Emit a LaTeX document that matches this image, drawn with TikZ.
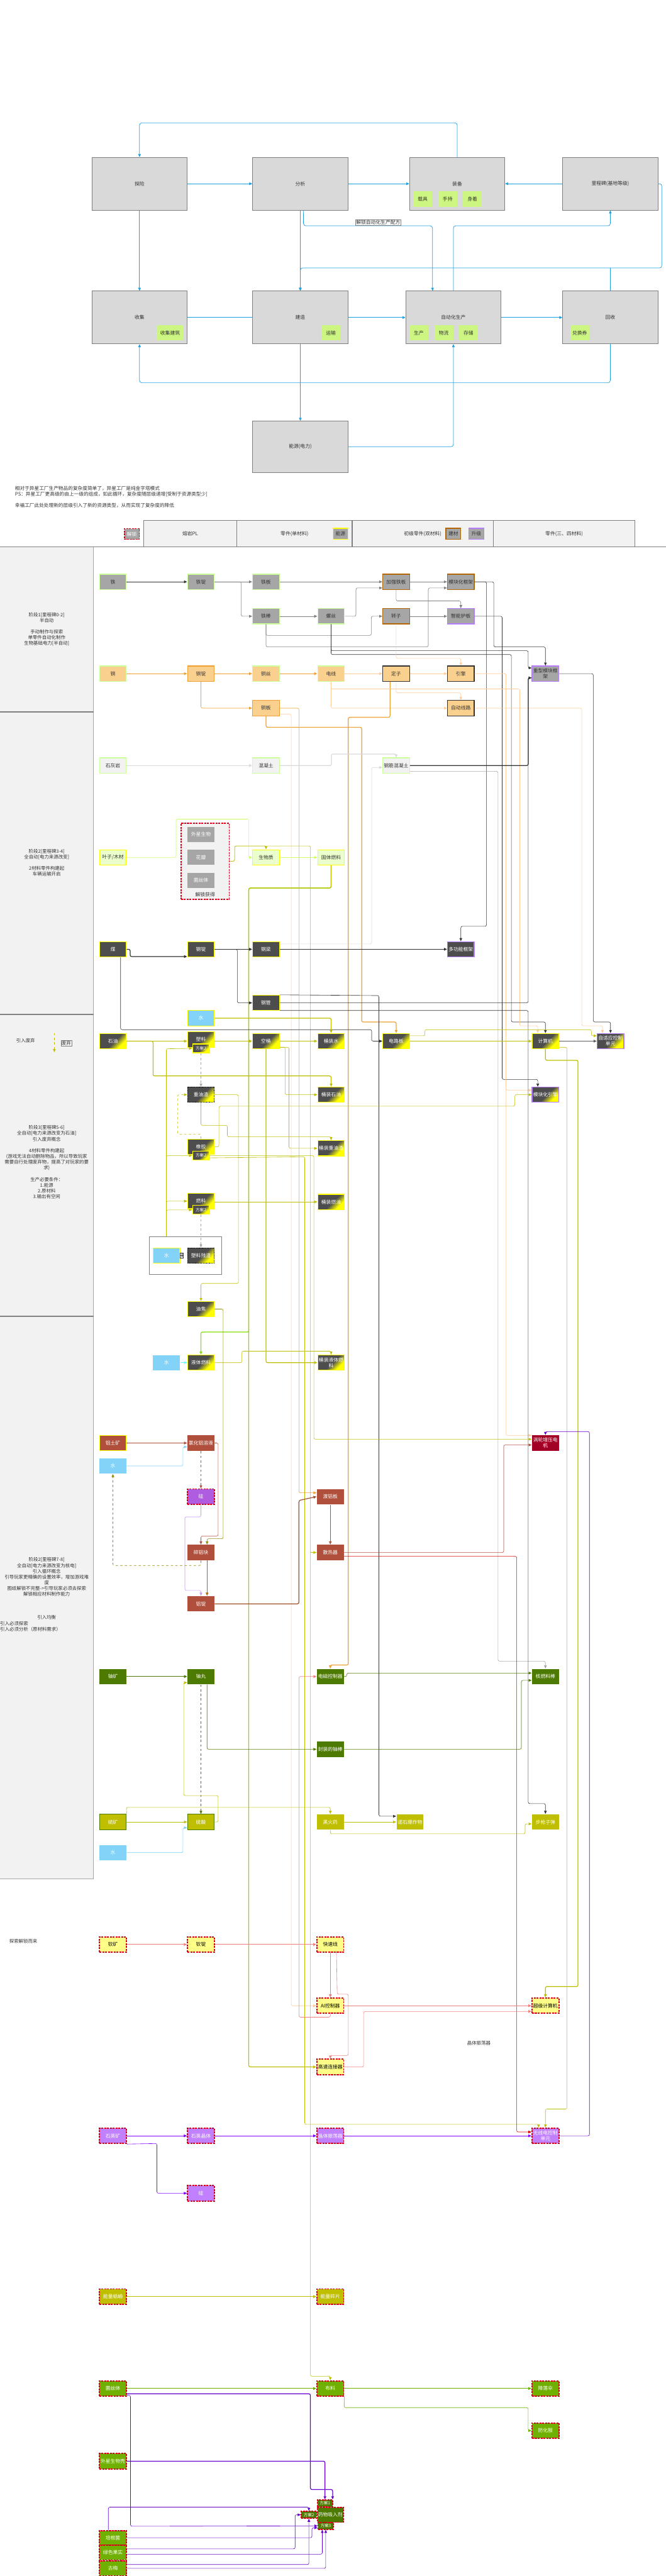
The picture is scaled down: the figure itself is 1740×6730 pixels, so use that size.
\documentclass[tikz,border=0pt]{standalone}
\usepackage{fontspec}
\setmainfont{Noto Sans CJK SC}
\usetikzlibrary{arrows.meta}
\definecolor{kblue}{HTML}{1BA1E2}
\definecolor{kbig}{HTML}{D9D9D9}
\definecolor{kbigd}{HTML}{7F7F7F}
\definecolor{ksub}{HTML}{CCF582}
\definecolor{kng}{HTML}{A6A6A6}
\definecolor{kbg}{HTML}{CCFF99}
\definecolor{kbb}{HTML}{B46504}
\definecolor{kbp}{HTML}{B77CFF}
\definecolor{kof}{HTML}{FAD08F}
\definecolor{kob}{HTML}{F0A030}
\definecolor{klg}{HTML}{F2F2F2}
\definecolor{kly}{HTML}{EBFFCC}
\definecolor{kdk}{HTML}{4D4D4D}
\definecolor{kyel}{HTML}{FFFF00}
\definecolor{kwat}{HTML}{83D3F8}
\definecolor{kbr}{HTML}{B0503C}
\definecolor{kdr}{HTML}{A20025}
\definecolor{kgui}{HTML}{B05CE0}
\definecolor{kug}{HTML}{4D7A00}
\definecolor{ksul}{HTML}{BFBF00}
\definecolor{kcat}{HTML}{FFFF88}
\definecolor{kqz}{HTML}{C080FF}
\definecolor{kmyc}{HTML}{6FB000}
\definecolor{kred}{HTML}{D9001B}
\definecolor{ktxt}{HTML}{333333}
\definecolor{ck}{HTML}{333333}
\definecolor{cgr}{HTML}{808080}
\definecolor{cor}{HTML}{F0A030}
\definecolor{clo}{HTML}{FFCC99}
\definecolor{clg}{HTML}{DADADA}
\definecolor{cgy}{HTML}{A6A6A6}
\definecolor{col}{HTML}{BFBF00}
\definecolor{cdol}{HTML}{8C8C00}
\definecolor{clgr}{HTML}{CCFF66}
\definecolor{cbgr}{HTML}{80E000}
\definecolor{cbr}{HTML}{B0503C}
\definecolor{cbr2}{HTML}{A0522D}
\definecolor{cwat}{HTML}{7FD3F8}
\definecolor{cpu}{HTML}{7F00FF}
\definecolor{cpu2}{HTML}{6600CC}
\definecolor{cpk}{HTML}{F08080}
\definecolor{cred}{HTML}{D80000}
\definecolor{clav}{HTML}{C39BF0}
\definecolor{ccy}{HTML}{66FFFF}
\pgfdeclareverticalshading{dgsh}{100bp}{color(0bp)=(kyel); color(30bp)=(kyel); color(47bp)=(kdk); color(100bp)=(kdk)}
\newcommand{\nfont}{\fontsize{6.4pt}{7.4pt}\selectfont}
\newcommand{\sfontx}{\fontsize{5.4pt}{6.2pt}\selectfont}
\newcommand{\lfont}{\fontsize{6.1pt}{7.5pt}\selectfont}
\newcommand{\tfont}{\fontsize{6.3pt}{7.5pt}\selectfont}
\tikzset{
 nb/.style={rectangle, minimum width=35pt, minimum height=20pt, inner sep=0pt, font=\nfont, align=center, line width=1pt, text=ktxt},
 rdash/.style={draw=kred, line width=1.5pt, dash pattern=on 2.5pt off 1.2pt},
 gn/.style={nb, fill=kng, draw=kbg},
 gbr/.style={nb, fill=kng, draw=kbb},
 gpu/.style={nb, fill=kng, draw=kbp},
 ogn/.style={nb, fill=kof, draw=kbg},
 oor/.style={nb, fill=kof, draw=kob},
 odk/.style={nb, fill=kof, draw=ck},
 lgn/.style={nb, fill=klg, draw=kbg},
 lye/.style={nb, fill=kly, draw=kyel},
 dky/.style={nb, fill=kdk, draw=kyel, text=white},
 dkp/.style={nb, fill=kdk, draw=kbp, text=white},
 dg/.style={nb, draw=kyel, shade, shading=dgsh, shading angle=45, text=white},
 dgp/.style={dg, draw=kbp},
 dgd/.style={nb, draw=black, dash pattern=on 1pt off 1pt, shade, shading=dgsh, shading angle=45, text=white},
 sub2/.style={dg, minimum width=22pt, minimum height=11.5pt, font=\sfontx},
 wat/.style={nb, fill=kwat, draw=kyel, text=white},
 watn/.style={nb, fill=kwat, draw=none, text=white},
 brn/.style={nb, fill=kbr, draw=none, text=white},
 drd/.style={nb, fill=kdr, draw=none, text=white},
 guis/.style={nb, fill=kgui, rdash, text=white},
 ugs/.style={nb, fill=kug, draw=none, text=white},
 suls/.style={nb, fill=ksul, draw=none, text=white},
 cats/.style={nb, fill=kcat, rdash, text=black},
 qzs/.style={nb, fill=kqz, rdash, text=white},
 egs/.style={nb, fill=ksul, rdash, text=white},
 mycs/.style={nb, fill=kmyc, rdash, text=white},
 fas/.style={nb, fill=kug, rdash, text=white, minimum width=20pt, minimum height=9pt, font=\sfontx, line width=1.2pt},
 big/.style={rectangle, fill=kbig, draw=kbigd, line width=0.6pt, minimum width=124.5pt, minimum height=69pt, font=\nfont, text=ktxt, inner sep=0pt},
 subb/.style={rectangle, fill=ksub, minimum width=24.5pt, minimum height=20pt, font=\nfont, text=ktxt, inner sep=0pt},
 hdr/.style={rectangle, fill=klg, draw=cgr, line width=1pt, minimum height=34.5pt, font=\nfont, text=ktxt, inner sep=0pt},
 tb/.style={draw=kblue, line width=0.6pt, rounded corners=3pt},
 ln/.style={line width=0.5pt, rounded corners=2pt},
 lt/.style={line width=1pt, rounded corners=2pt},
 lbl/.style={font=\lfont, text=ktxt, align=center, inner sep=0pt},
}
\begin{document}
\begin{tikzpicture}[x=0.5pt,y=-0.5pt,>={Triangle[length=4pt,width=3.4pt]}]
\useasboundingbox (0,0) rectangle (1740,6730);
\fill[white] (0,0) rectangle (1740,6730);

% ================= TOP OVERVIEW =================
\node[big] (tanxian) at (364.5,480) {探险};
\node[big] (fenxi) at (784.5,480) {分析};
\node[big] (zhuangbei) at (1194.5,480) {装备};
\node[big] (lichengbei) at (1594.5,480) {里程碑(基地等级)};
\node[big] (shouji) at (364.5,829.5) {收集};
\node[big] (jianzao) at (784.5,829.5) {建造};
\node[big] (zdh) at (1184.5,829.5) {自动化生产};
\node[big] (huishou) at (1594.5,829.5) {回收};
\node[big, minimum height=67pt] (nengyuan) at (784.5,1167) {能源(电力)};
\node[subb] (s1) at (1104.5,520) {载具};
\node[subb] (s2) at (1169.5,520) {手持};
\node[subb] (s3) at (1234,520) {身着};
\node[subb, minimum width=35.5pt] (s4) at (444.5,869.5) {收集建筑};
\node[subb] (s5) at (864.5,869.5) {运输};
\node[subb] (s6) at (1094,869.5) {生产};
\node[subb] (s7) at (1159.5,869.5) {物流};
\node[subb] (s8) at (1224,869.5) {存储};
\node[subb] (s9) at (1514.5,869.5) {兑换券};

\draw[tb,->] (zhuangbei.north) -- (1194.5,321) -- (364.5,321) -- (tanxian.north);
\draw[tb,->] (tanxian) -- (fenxi);
\draw[tb,->] (fenxi) -- (zhuangbei);
\draw[tb,->] (lichengbei) -- (zhuangbei);
\draw[tb,->] (tanxian) -- (shouji);
\draw[tb,->] (fenxi) -- (jianzao);
\draw[tb,->] ([xshift=4pt]fenxi.south) -- (793,590) -- (1130,590) -- ([xshift=-27.25pt]zdh.north);
\draw[tb,->] (zdh.north) -- (1184.5,590) -- (1594.5,590) -- (lichengbei.south);
\draw[tb,->] (lichengbei.east) -- (1729,480) -- (1729,700) -- (784.5,700) -- (jianzao.north);
\draw[tb] (huishou.north) -- (1594.5,700);
\draw[tb, line width=1pt] (shouji) -- (jianzao);
\draw[tb,->] (jianzao) -- (zdh);
\draw[tb,->] (zdh) -- (huishou);
\draw[tb,->] (jianzao) -- (nengyuan);
\draw[tb,->] (huishou.south) -- (1594.5,1000) -- (364.5,1000) -- (shouji.south);
\draw[tb,->] (nengyuan.east) -- (1184.5,1167) -- (zdh.south);
\node[draw=gray, fill=white, line width=0.3pt, inner sep=0.8pt, font=\nfont, text=ktxt] (unlock) at (988,581) {解锁自动化生产配方};

% ================= TEXT =================
\node[anchor=west, font=\tfont, text=ktxt, inner sep=0pt] (t1) at (39,1276) {相对于异星工厂生产物品的复杂度简单了，异星工厂是纯金字塔模式};
\node[anchor=west, font=\tfont, text=ktxt, inner sep=0pt] (t2) at (39,1292) {PS：异星工厂更高级的由上一级的组成，如此循环，复杂度随层级递增[受制于资源类型少]};
\node[anchor=west, font=\tfont, text=ktxt, inner sep=0pt] (t3) at (39,1320) {幸福工厂此处处理新的层级引入了新的资源类型，从而实现了复杂度的降低};

% ================= HEADER =================
\node[hdr, minimum width=122pt] (h1) at (497,1394.5) {熔岩PL};
\node[hdr, minimum width=150.5pt] (h2) at (769.5,1394.5) {零件(单材料)};
\node[hdr, minimum width=184.5pt] (h3) at (1104.5,1394.5) {初级零件(双材料)};
\node[hdr, minimum width=185pt] (h4) at (1474,1394.5) {零件(三、四材料)};
\node[nb, fill=kng, rdash, minimum width=19.5pt, minimum height=14pt, text=white] (lgunlock) at (344.5,1395) {解锁};
\node[nb, fill=kng, draw=kyel, minimum width=19.5pt, minimum height=14.5pt] (lgen) at (889.5,1394.5) {能源};
\node[nb, fill=kng, draw=kbb, minimum width=19.5pt, minimum height=14.5pt] (lgjc) at (1184.5,1394.5) {建材};
\node[nb, fill=kng, draw=kbp, minimum width=19.5pt, minimum height=14.5pt] (lgsj) at (1244.5,1394.5) {升级};

% ================= POOL =================
\fill[klg] (0,1429) rectangle (244,4909);
\draw[cgr!70, line width=0.5pt] (244,1429) -- (244,4909) -- (0,4909);
\draw[cgr, line width=1pt] (0,1429) -- (1740,1429);
\draw[cgr, line width=1.4pt] (0,1860) -- (244,1860);
\draw[cgr, line width=1.4pt] (0,2650) -- (244,2650);
\draw[cgr, line width=1.4pt] (0,3439) -- (244,3439);
\node[lbl] (lane1) at (122,1644) {阶段1[里程碑0-2]\\半自动\\[7.5pt]手动制作与探索\\单零件自动化制作\\生物基础电力[半自动]};
\node[lbl] (lane2) at (122,2254) {阶段2[里程碑3-4]\\全自动[电力来源改变]\\[7.5pt]2材料零件构建起\\车辆运输开启};
\node[lbl] (lane3) at (122,3036) {阶段3[里程碑5-6]\\全自动[电力来源改变为石油]\\引入废弃概念\\[7.5pt]4材料零件构建起\\(游戏无法自动删除物品，所以导致玩家\\需要自行处理废弃物，提高了对玩家的要\\求)\\[7.5pt]生产必要条件：\\1.能源\\2.原材料\\3.输出有空闲};
\node[lbl] (lane4) at (122,4120) {阶段2[里程碑7-8]\\全自动[电力来源改变为核电]\\引入循环概念\\引导玩家更精确的设置效率，增加游戏难\\度\\图纸解锁不完整->引导玩家必须去探索\\解锁相应材料制作能力};
\node[lbl] (l4a) at (122,4225) {引入均衡};
\node[lbl, anchor=west] (l4b) at (0,4241) {引入必须探索};
\node[lbl, anchor=west] (l4c) at (0,4256) {引入必须分析（原材料需求）};
\node[lbl] (waste1) at (67,2718) {引入废弃};
\coordinate (wa) at (142,2699);
\coordinate (wb) at (142,2749);
\draw[col, line width=0.5pt, dashed, ->] (wa) -- (wb);
\node[lbl, draw=cgr, line width=0.3pt, inner sep=0.8pt] (waste2) at (173,2726) {废弃};

% ================= LANE 1 NODES =================
\node[gn] (tie) at (295,1520) {铁};
\node[gn] (tieding) at (525,1520) {铁锭};
\node[gn] (tieban) at (695,1520) {铁板};
\node[gbr] (jqtb) at (1035,1520) {加强铁板};
\node[gbr] (mkkj) at (1204,1520) {模块化框架};
\node[gn] (tiebang) at (695,1610) {铁棒};
\node[gn] (luosi) at (865,1610) {螺丝};
\node[gbr] (zhuanzi) at (1035,1610) {转子};
\node[gpu] (znhb) at (1204,1610) {智能护板};
\node[ogn] (tong) at (295,1760) {铜};
\node[oor] (tongding) at (525,1760) {铜锭};
\node[ogn] (tongsi) at (695,1760) {铜丝};
\node[ogn] (dianxian) at (865,1760) {电线};
\node[odk] (dingzi) at (1035,1760) {定子};
\node[odk] (yinqing) at (1204,1760) {引擎};
\node[gpu] (zxmk) at (1425,1760) {重型模块框\\架};
\node[oor] (tongban) at (695,1850) {铜板};
\node[odk] (zdxl) at (1204,1850) {自动线路};

% ================= LANE 2 NODES =================
\node[lgn] (shihuiyan) at (295,2000) {石灰岩};
\node[lgn] (hunningtu) at (695,2000) {混凝土};
\node[lgn] (gjhnt) at (1035,2000) {钢筋混凝土};
\node[lye] (yezi) at (295,2240) {叶子/木材};
\node[lye] (swz) at (695,2240) {生物质};
\node[lye] (gtrl) at (865,2240) {固体燃料};
\node[rectangle, fill=klg, rdash, minimum width=63pt, minimum height=99pt, inner sep=0pt] (group) at (536,2250) {};
\node[nb, fill=kng, draw=none, text=white] (wxsw) at (525,2180) {外星生物};
\node[nb, fill=kng, draw=none, text=white] (huaban) at (525,2240) {花瓣};
\node[nb, fill=kng, draw=none, text=white] (jsti) at (525,2300) {菌丝体};
\node[font=\nfont, text=ktxt, inner sep=0pt] (jshd) at (536,2338) {解锁获得};
\node[dky] (mei) at (295,2480) {煤};
\node[dky] (gangding) at (525,2480) {钢锭};
\node[dky] (gangliang) at (695,2480) {钢梁};
\node[dkp] (dgnkj) at (1204,2480) {多功能框架};
\node[dky] (gangguan) at (695,2620) {钢管};
\node[wat] (shui1) at (525,2660) {水};

% ================= LANE 3 NODES =================
\node[dg] (shiyou) at (295,2720) {石油};
\node[dg] (suliao) at (525,2716) {塑料};
\node[sub2] (fasl) at (525,2739) {方案2};
\node[dg] (kongtong) at (695,2720) {空桶};
\node[dg] (tzs) at (865,2720) {桶装水};
\node[dg] (dlb) at (1035,2720) {电路板};
\node[dg] (jsj) at (1425,2720) {计算机};
\node[dgp] (zsy) at (1595,2720) {自适应控制\\单元};
\node[dgd] (zyz) at (525,2860) {重油渣};
\node[dg] (tzsy) at (865,2860) {桶装石油};
\node[dgp] (mkhyq) at (1425,2860) {模块化引擎};
\node[dg] (xiangjiao) at (525,2996) {橡胶};
\node[sub2] (faxj) at (525,3019) {方案2};
\node[dg] (tzzyz) at (865,3000) {桶装重油渣};
\node[dg] (ranliao) at (525,3138) {燃料};
\node[sub2] (farl) at (525,3161) {方案2};
\node[dg] (tzry) at (865,3140) {桶装燃油};
\node[rectangle, draw=cgr, fill=white, line width=0.5pt, minimum width=94.5pt, minimum height=50pt, inner sep=0pt] (grp2) at (484.5,3280) {};
\node[wat] (shui2) at (435,3280) {水};
\node[dgd] (slcz) at (525,3280) {塑料残渣};
\draw[ck, line width=0.4pt] (471,3273) rectangle (479,3287) (475,3275) -- (475,3285) (472,3280) -- (478,3280);
\node[dg] (youjiao) at (525,3420) {油焦};
\node[watn] (shui3) at (435,3560) {水};
\node[dg] (ytrl) at (525,3560) {液体燃料};
\node[dg] (tzytrl) at (865,3560) {桶装液体燃\\料};

% ================= LANE 4 NODES =================
\node[brn, draw=kyel] (lvtk) at (295,3770) {铝土矿};
\node[brn] (lhlry) at (525,3770) {氯化铝溶液};
\node[watn] (shui4) at (295,3830) {水};
\node[guis] (gui) at (525,3910) {硅};
\node[drd] (wlzy) at (1425,3770) {涡轮增压电\\机};
\node[brn] (dlb2) at (863,3910) {渡铝板};
\node[brn] (sulk) at (525,4056) {碎铝块};
\node[brn] (srq) at (863,4056) {散热器};
\node[brn] (lvding) at (525,4190) {铝锭};
\node[ugs] (youkuang) at (295,4380) {铀矿};
\node[ugs] (youwan) at (525,4380) {铀丸};
\node[ugs] (dckz) at (863,4380) {电磁控制器};
\node[ugs] (hrlb) at (1425,4380) {核燃料棒};
\node[ugs] (fzyb) at (863,4570) {封装的铀棒};
\node[suls, draw=kug] (liukuang) at (295,4760) {硫矿};
\node[suls, draw=kug] (liusuan) at (525,4760) {硫酸};
\node[suls] (hhy) at (863,4760) {黑火药};
\node[suls] (nbe) at (1071,4760) {诺石爆炸物};
\node[suls] (bqzd) at (1425,4760) {步枪子弹};
\node[watn] (shui5) at (295,4840) {水};

% ================= BELOW POOL =================
\node[lbl] (tsjs) at (61,5071) {探索解锁而来};
\node[lbl] (jtzd) at (1251,5337) {晶体振荡器};
\node[cats] (qinkuang) at (295,5080) {钦矿};
\node[cats] (qinding) at (525,5080) {钦锭};
\node[cats] (ksx) at (863,5080) {快速线};
\node[cats] (aikzq) at (863,5240) {AI控制器};
\node[cats] (cjjsj) at (1425,5240) {超级计算机};
\node[cats] (gslj) at (863,5400) {高速连接器};
\node[qzs] (syk) at (295,5580) {石英矿};
\node[qzs] (syjt) at (525,5580) {石英晶体};
\node[qzs] (jtzdq) at (863,5580) {晶体振荡器};
\node[qzs] (wxd) at (1425,5580) {无线电控制\\单元};
\node[qzs] (gui2) at (525,5730) {硅};
\node[egs] (nlky) at (295,6000) {能量蛞蝓};
\node[egs] (nlsp) at (863,6000) {能量碎片};
\node[mycs] (jst2) at (295,6240) {菌丝体};
\node[mycs] (buliao) at (863,6240) {布料};
\node[mycs] (jlz) at (1425,6240) {降落伞};
\node[mycs] (fhf) at (1425,6350) {防化服};
\node[mycs] (wxswk) at (295,6430) {外星生物壳};
\node[mycs, fill=kug, minimum width=34pt, minimum height=19.5pt] (ywxrj) at (863,6570) {药物吸入剂};
\node[fas] (fa1) at (849,6540) {方案1};
\node[fas] (fa2) at (807,6570) {方案2};
\node[fas] (fa3) at (851,6599) {方案3};
\node[mycs, minimum height=19pt] (pgj) at (295,6630) {培根菌};
\node[mycs, minimum height=19pt] (lsgs) at (295,6669) {绿色果实};
\node[mycs, minimum height=19pt] (gm) at (295,6710) {古梅};

% ================= LANE 1 CONNECTORS =================
\draw[lt, ck, ->] (tie) -- (tieding);
\draw[ln, cgr, ->] (tieding) -- (tieban);
\draw[ln, cgr, ->] (tieding.east) -- (630,1520) -- (630,1610) -- (tiebang.west);
\draw[ln, cgr, ->] (tieban) -- (jqtb);
\draw[ln, cgr, ->] (luosi.east) -- (930,1610) -- (930,1536) -- ([yshift=-8pt]jqtb.west);
\draw[ln, cgr, ->] (jqtb) -- (mkkj);
\draw[ln, cgr, ->] (tiebang) -- (luosi);
\draw[ln, cgr, ->] (tiebang.south) -- (695,1660) -- (970,1660) -- (970,1610) -- (zhuanzi.west);
\draw[ln, cgr, ->] (tiebang.south) -- (695,1690) -- (1119,1690) -- (1119,1536) -- ([yshift=-8pt]mkkj.west);
\draw[ln, cgr, ->] (jqtb.south) -- (1035,1570) -- (1204,1570) -- (znhb.north);
\draw[ln, cgr, ->] (zhuanzi) -- (znhb);
\draw[ln, ck, ->] (mkkj.east) -- (1290,1520) -- (1290,1690) -- (1425,1690) -- (zxmk.north);
\draw[ln, ck, ->] (mkkj.east) -- (1271,1520) -- (1271,2420) -- (1204,2420) -- (dgnkj.north);
\draw[ln, ck, ->] (luosi.south) -- (865,1710) -- (1336,1710) -- (1336,2670) -- (1425,2670) -- (jsj.north);
\draw[ln, ck, ->] (luosi.south) -- (865,1700) -- (1380,1700) -- (1380,1745) -- ([yshift=7.5pt]zxmk.west);
\draw[ln, ck, ->] (znhb.east) -- (1312,1610) -- (1312,2820) -- (1405,2820) -- ([xshift=-10pt]mkhyq.north);
\draw[lt, cor, ->] (tong) -- (tongding);
\draw[lt, cor, ->] (tongding) -- (tongsi);
\draw[lt, cor, ->] (tongsi) -- (dianxian);
\draw[ln, clo, ->] (dianxian) -- (dingzi);
\draw[ln, clo, ->] (dingzi) -- (yinqing);
\draw[ln, clo, ->] (zhuanzi.south) -- (1035,1720) -- (1204,1720) -- (yinqing.north);
\draw[ln, cor, ->] (tongding.south) -- (525,1850) -- (tongban.west);
\draw[ln, clo, ->] (dianxian.south) -- (865,1850) -- (zdxl.west);
\draw[ln, clo, ->] (dingzi.south) -- (1035,1810) -- (1204,1810) -- (zdxl.north);
\draw[ln, clo, ->] (zdxl.east) -- (1520,1850) -- (1520,2680) -- (1574,2680) -- ([xshift=-10.5pt]zsy.north);
\draw[ln, ck, ->] (zxmk.east) -- (1550,1760) -- (1550,2670) -- (1595,2670) -- (zsy.north);
\draw[lt, cor, ->] (tongban.south) -- (695,1900) -- (945,1900) -- (945,2670) -- (1035,2670) -- (dlb.north);
\draw[lt, cor, ->] ([xshift=-8pt]dingzi.south) -- (1019,1874) -- (910,1874) -- (910,4350) -- (863,4350) -- (dckz.north);
\draw[ln, clo, ->] (dianxian.south) -- (865,1800) -- (1358,1800) -- (1358,2680) -- (1405,2680) -- ([xshift=-10pt]jsj.north);
\draw[ln, clo, ->] (yinqing.east) -- (1322,1760) -- (1322,3750) -- ([yshift=10pt]wlzy.west);
\draw[ln, clo, ->] (yinqing.east) -- (1322,1760) -- (1322,2848) -- ([yshift=6pt]mkhyq.west);
\draw[ln, cor, ->] (tongban.east) -- (781,1850) -- (781,3900) -- ([yshift=5pt]dlb2.west);
\draw[ln, clo, ->] ([yshift=-8pt]tongban.east) -- (761,1866) -- (761,5240) -- (aikzq.west);

% ================= LANE 2 CONNECTORS =================
\draw[lt, clg, ->] (shihuiyan) -- (hunningtu);
\draw[lt, clg, ->] (hunningtu.east) -- (866,2000) -- (866,1970) -- (1035,1970) -- (gjhnt.north);
\draw[ln, clg, ->] ([yshift=7pt]gangliang.east) -- (971,2466) -- (971,2005) -- ([yshift=-2.5pt]gjhnt.west);
\draw[lt, ck, ->] (gjhnt.east) -- (1380,2000) -- (1380,1771) -- ([yshift=-5.5pt]zxmk.west);
\draw[ln, cgy, ->] ([yshift=-7.5pt]gjhnt.east) -- (1301,2015) -- (1301,4340) -- (1425,4340) -- (hrlb.north);
\draw[ln, clgr, ->] (yezi.east) -- (460,2240) -- (460,2140) -- (650,2140) -- (650,2240) -- (swz.west);
\draw[ln, col, ->] (group.east) -- (613,2250) -- (613,2210) -- (695,2210) -- (swz.north);
\draw[ln, col, ->] (group.east) -- (613,2250) -- (613,2210) -- (811,2210) -- (811,6208) -- (863,6208) -- (buliao.north);
\draw[ln, col, ->] (811,4056) -- (srq.west);
\draw[ln, clgr, ->] (swz) -- (gtrl);
\draw[lt, cbgr, ->] (gtrl.south) -- (865,2320) -- (650,2320) -- (650,3480) -- (525,3480) -- (ytrl.north);
\draw[lt, col, ->] (gtrl.south) -- (865,2320) -- (650,2320) -- (650,5400) -- (gslj.west);
\draw[lt, ck, ->] (mei.east) -- (340,2480) -- (340,2499) -- ([yshift=-9.5pt]gangding.west);
\draw[lt, ck, ->] (gangding) -- (gangliang);
\draw[ln, ck, ->] (gangding.east) -- (620,2480) -- (620,2620) -- (gangguan.west);
\draw[lt, ck, ->] (gangliang) -- (dgnkj);
\draw[ln, ck, ->] ([xshift=10pt]mei.south) -- (315,2690) -- (971,2690) -- (971,2720) -- (dlb.west);
\draw[ln, ck, ->] (gangguan.north east) -- (990,2601) -- (990,4745) -- ([yshift=7.5pt]nbe.west);
\draw[ln, ck, ->] (gangguan.east) -- (1380,2620) -- (1380,1771) -- ([yshift=-5.5pt]zxmk.west);
\draw[ln, ck, ->] ([yshift=-10pt]gangguan.east) -- (1380,2640) -- (1380,4712) -- (1425,4712) -- (bqzd.north);
\draw[lt, col, ->] (shui1.east) -- (865,2660) -- (tzs.north);

% ================= LANE 3 CONNECTORS =================
\draw[lt, col, ->] (shiyou) -- (suliao.west |- shiyou);
\draw[lt, col, ->] (shiyou.east) -- (400,2720) -- (400,2811) -- (865,2811) -- (tzsy.north);
\draw[lt, col, ->] (suliao.east |- kongtong) -- (kongtong);
\draw[lt, col, ->] (kongtong) -- (tzs);
\draw[ln, col, ->] ([yshift=-8pt]kongtong.east) -- (745,2736) -- (745,2860) -- (tzsy.west);
\draw[ln, col, ->] ([yshift=-8pt]kongtong.east) -- (755,2736) -- (755,3000) -- (tzzyz.west);
\draw[ln, col, ->] (ranliao.east |- tzry) -- (tzry);
\draw[lt, col, ->] (kongtong.south) -- (695,3560) -- (tzytrl.west);
\draw[ln, col, ->] (ytrl.east) -- (632,3560) -- (632,3530) -- (865,3530) -- (tzytrl.north);
\draw[lt, ccy, ->] (shui3) -- (ytrl);
\draw[ln, cgy, dashed, ->] (fasl.south) -- (zyz.north);
\draw[ln, cgy, dashed, ->] (farl.south) -- (slcz.north);
\draw[ln, col, dashed, ->] (xiangjiao.north) -- (525,2963) -- (464,2963) -- (464,2860) -- (zyz.west);
\draw[ln, col, ->] (zyz.south) -- (525,2940) -- (594,2940) -- (594,2970) -- (865,2970) -- (tzzyz.north);
\draw[ln, col, ->] (zyz.east) -- (623,2860) -- (623,3353) -- (525,3353) -- (youjiao.north);
\draw[ln, cdol, ->] (youjiao.east) -- (583,3420) -- (583,4020) -- (541,4020) -- ([xshift=8pt]sulk.north);
\draw[ln, col, ->] ([xshift=-25pt]grp2.north) -- (434.5,2740) -- (fasl.west);
\draw[ln, col, ->] ([xshift=-25pt]grp2.north) -- (434.5,3019) -- (faxj.west);
\draw[ln, col, ->] ([xshift=-25pt]grp2.north) -- (434.5,3161) -- (farl.west);
\draw[ln, col, ->] ([xshift=-25pt]grp2.north) -- (434.5,3138) -- (ranliao.west);
\draw[lt, col, ->] (dlb) -- (jsj);
\draw[lt, ck!80, ->] (jsj) -- (zsy);
\draw[ln, col, ->] ([yshift=7pt]dlb.east) -- (1110,2706) -- (1110,2690) -- (1545,2690) -- (1545,2706) -- ([yshift=7pt]zsy.west);
\draw[ln, col, ->] ([yshift=-8pt]jsj.east) -- (1481,2736) -- (1481,5510) -- (1425,5510) -- (wxd.north);
\draw[lt, col, ->] (jsj.south) -- (1425,2770) -- (1510,2770) -- (1510,5190) -- (1425,5190) -- (cjjsj.north);
\draw[ln, col, ->] (xiangjiao.east) -- (572,2996) -- (572,2890) -- (1345,2890) -- (1345,2860) -- (mkhyq.west);
\draw[ln, col, ->] (faxj.east) -- (820,3019) -- (820,3760) -- ([yshift=5pt]wlzy.west);
\draw[ln, col, ->] ([yshift=-3pt]faxj.east) -- (796,3022) -- (796,5550) -- (1407,5550) -- ([xshift=-9pt]wxd.north);

% ================= LANE 4 CONNECTORS =================
\draw[lt, cbr, ->] (lvtk) -- (lhlry);
\draw[ln, cwat, ->] (shui4.east) -- (478,3830) -- (478,3780) -- ([yshift=-5pt]lhlry.west);
\draw[ln, cbr, dashed, ->] (lhlry) -- (gui);
\draw[ln, cbr, ->] (lhlry.east) -- (570,3770) -- (570,4013) -- (525,4013) -- (sulk.north);
\draw[ln, clav, ->] (gui.south) -- (525,3963) -- (483,3963) -- (483,4155) -- (525,4155) -- (lvding.north);
\draw[ln, kbb, ->] ([xshift=8pt]sulk.south) -- ([xshift=8pt]lvding.north);
\draw[ln, cdol, dashed, ->] (sulk.south) -- (525,4090) -- (295,4090) -- (shui4.south);
\draw[lt, cbr2, ->] (lvding.east) -- (781,4190) -- (781,3920) -- (dlb2.west);
\draw[ln, cbr, ->] (dlb2) -- (srq);
\draw[ln, cbr, ->] (srq.east) -- (1316,4056) -- (1316,3775) -- ([yshift=-2.5pt]wlzy.west);
\draw[ln, cred, ->] ([yshift=-5pt]srq.east) -- (1350,4066) -- (1350,5570) -- ([yshift=5pt]wxd.west);
\draw[ln, cpu2, ->] (wxd.east) -- (1540,5580) -- (1540,3740) -- (1425,3740) -- (wlzy.north);
\draw[lt, kug, ->] (youkuang) -- (youwan);
\draw[ln, kug, dashed, ->] (youwan) -- (liusuan);
\draw[ln, kug, ->] ([xshift=8pt]youwan.south) -- (541,4570) -- (fzyb.west);
\draw[ln, kug, ->] (fzyb.east) -- (1362,4570) -- (1362,4390) -- ([yshift=-5pt]hrlb.west);
\draw[ln, kug, ->] (dckz.east) -- (906,4380) -- (906,4371) -- ([yshift=4.5pt]hrlb.west);
\draw[ln, cpk, ->] (aikzq.south) -- (863,5270) -- (781,5270) -- (781,4380) -- (dckz.west);
\draw[ln, col, ->] (liusuan.east) -- (570,4760) -- (570,4691) -- (480,4691) -- (480,4396) -- ([yshift=-8pt]youwan.west);
\draw[ln, col, ->] (liukuang) -- (liusuan);
\draw[ln, col, ->] (liukuang.north east) -- (330,4722) -- (863,4722) -- (hhy.north);
\draw[ln, cwat, ->] (shui5.east) -- (478,4840) -- (478,4775) -- ([yshift=-7.5pt]liusuan.west);
\draw[ln, col, ->] (hhy) -- (nbe);
\draw[ln, col, ->] (hhy.south) -- (863,4791) -- (1372,4791) -- (1372,4765) -- ([yshift=-2.5pt]bqzd.west);

% ================= BELOW POOL CONNECTORS =================
\draw[lt, cpk, ->] (qinkuang) -- (qinding);
\draw[lt, cpk, ->] (qinding) -- (ksx);
\draw[ln, cpk, ->] (ksx) -- (aikzq);
\draw[ln, cpk, ->] ([xshift=8pt]ksx.south) -- (881,5210) -- (910,5210) -- (910,5370) -- (863,5370) -- (gslj.north);
\draw[lt, cpk, ->] (aikzq) -- (cjjsj);
\draw[ln, cpk, ->] (gslj.east) -- (950,5400) -- (950,5255) -- ([yshift=-7.5pt]cjjsj.west);
\draw[ln, cpu, ->] (syk) -- (syjt);
\draw[ln, cpu, ->] (syjt) -- (jtzdq);
\draw[ln, cpu, ->] (jtzdq) -- (wxd);
\draw[ln, cpu, ->] (syk.south east) -- (410,5600) -- (410,5730) -- (gui2.west);
\draw[lt, col, ->] (nlky) -- (nlsp);
\draw[lt, kmyc, ->] (jst2) -- (buliao);
\draw[lt, kmyc, ->] (buliao) -- (jlz);
\draw[ln, kmyc, ->] (buliao.south east) -- (899,6290) -- (1380,6290) -- (1380,6350) -- (fhf.west);
\draw[lt, cpu2, ->] ([yshift=-7pt]jst2.east) -- (811,6254) -- (811,6504) -- (869,6504) -- ([xshift=10pt]fa1.north);
\draw[lt, cpu2, ->] (wxswk.east) -- (849,6430) -- (fa1.north);
\draw[ln, cpu2, ->] ([yshift=-9pt]jst2.east) -- (341,6258) -- (341,6600) -- (fa3.west);
\draw[ln, cpu2, ->] ([xshift=-6pt]pgj.north) -- (283,6550) -- (807,6550) -- (fa2.north);
\draw[ln, cpu2, ->] (pgj.east) -- (815,6630) -- (815,6604) -- ([yshift=-2.5pt]fa3.west);
\draw[ln, cpu2, ->] ([yshift=5pt]lsgs.east) -- (771,6659) -- (771,6570) -- (fa2.west);
\draw[ln, cpu2, ->] ([yshift=-2pt]lsgs.east) -- (842,6673) -- ([xshift=-4.5pt]fa3.south);
\draw[ln, cpu2, ->] ([yshift=5pt]gm.east) -- (807,6700) -- (fa2.south);
\draw[ln, cpu2, ->] (gm.east) -- (851,6710) -- (fa3.south);
\end{tikzpicture}
\end{document}
